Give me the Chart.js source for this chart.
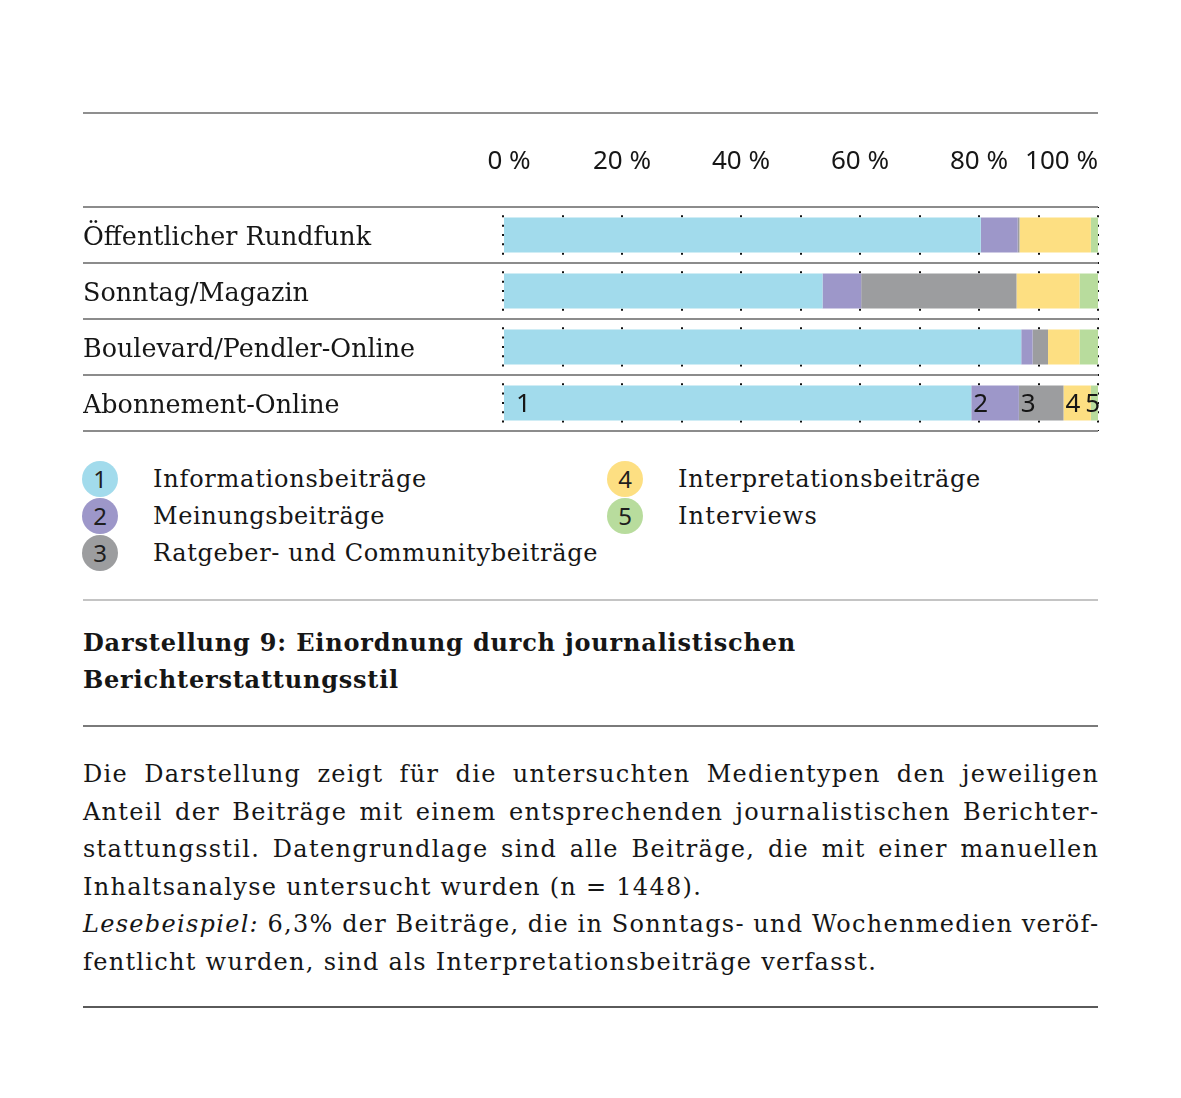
<!DOCTYPE html>
<html><head><meta charset="utf-8">
<script src="https://cdn.jsdelivr.net/npm/chart.js@4/dist/chart.umd.min.js"></script>
<style>
html,body{margin:0;padding:0;background:#fff;}
body{width:1181px;height:1098px;position:relative;overflow:hidden;font-family:"DejaVu Serif",serif;color:#161616;}
.hl{position:absolute;left:83px;width:1015px;}
#chartBox{position:absolute;left:83px;top:113px;width:1020px;height:330px;}
.dot{position:absolute;width:36px;height:36px;border-radius:50%;font-family:"Noto Sans",sans-serif;font-size:24px;line-height:36px;text-align:center;color:#1e1e1e;}
.lbl{position:absolute;white-space:nowrap;font-size:24px;line-height:36px;}
.fit{display:inline-block;white-space:nowrap;}
.title{position:absolute;left:83px;font-weight:bold;font-size:24px;line-height:37px;white-space:nowrap;}
.bl{position:absolute;left:83px;width:1015px;font-size:24px;line-height:37.6px;white-space:nowrap;}
</style>
</head>
<body>
<div class="hl" style="top:112px;height:2px;background:#8f8f8f"></div>
<div id="chartBox"><canvas id="c" width="1020" height="330"></canvas></div>
<div id="legend"></div>
<div class="hl" style="top:599px;height:2px;background:#c4c4c4"></div>
<div class="title" style="top:624px"><span class="fit" data-w="713">Darstellung 9: Einordnung durch journalistischen</span></div>
<div class="title" style="top:661px"><span class="fit" data-w="316">Berichterstattungsstil</span></div>
<div class="hl" style="top:725px;height:2px;background:#7a7a7a"></div>
<div id="body">
<div class="bl" style="top:756px"><span class="fit jl">Die Darstellung zeigt für die untersuchten Medientypen den jeweiligen</span></div>
<div class="bl" style="top:794px"><span class="fit jl">Anteil der Beiträge mit einem entsprechenden journalistischen Berichter-</span></div>
<div class="bl" style="top:831px"><span class="fit jl">stattungsstil. Datengrundlage sind alle Beiträge, die mit einer manuellen</span></div>
<div class="bl" style="top:869px"><span class="fit" id="ref1">Inhaltsanalyse untersucht wurden (n = 1448).</span></div>
<div class="bl" style="top:906px"><span class="fit jl"><i>Lesebeispiel:</i> 6,3% der Beiträge, die in Sonntags- und Wochenmedien veröf-</span></div>
<div class="bl" style="top:944px"><span class="fit" id="ref2">fentlicht wurden, sind als Interpretationsbeiträge verfasst.</span></div>
</div>
<div class="hl" style="top:1006px;height:2px;background:#5a5a5a"></div>
<script>
// ---- data ----
const categories = ['Öffentlicher Rundfunk', 'Sonntag/Magazin', 'Boulevard/Pendler-Online', 'Abonnement-Online'];
const seriesNames = ['Informationsbeiträge', 'Meinungsbeiträge', 'Ratgeber- und Communitybeiträge', 'Interpretationsbeiträge', 'Interviews'];
const seriesNumbers = ['1', '2', '3', '4', '5'];
const informationsbeitraege = [80.3, 53.7, 87.1, 78.7];
const meinungsbeitraege = [6.2, 6.5, 1.9, 8.0];
const ratgeberCommunity = [0.3, 26.1, 2.6, 7.5];
const interpretationsbeitraege = [12.0, 10.6, 5.3, 4.6];
const interviews = [1.2, 3.1, 3.1, 1.2];
const tickValues = [0, 20, 40, 60, 80, 100];
const tickLabels = ['0 %', '20 %', '40 %', '60 %', '80 %', '100 %'];
const seriesColors = ['#A2DBEC', '#9D97C9', '#9C9D9F', '#FDDF82', '#B8DC9D'];

const seriesValues = [informationsbeitraege, meinungsbeitraege, ratgeberCommunity, interpretationsbeitraege, interviews];

// ---- legend (HTML) ----
const legendPos = [[82, 461], [82, 498], [82, 535], [607, 461], [607, 498]];
const legendWidths = [274, 232, 445, 303, 140];
const legend = document.getElementById('legend');
seriesNames.forEach((name, i) => {
  const d = document.createElement('div');
  d.className = 'dot';
  d.style.left = legendPos[i][0] + 'px';
  d.style.top = legendPos[i][1] + 'px';
  d.style.background = seriesColors[i];
  d.textContent = seriesNumbers[i];
  legend.appendChild(d);
  const l = document.createElement('div');
  l.className = 'lbl';
  l.style.left = (legendPos[i][0] + 71) + 'px';
  l.style.top = legendPos[i][1] + 'px';
  l.innerHTML = '<span class="fit"></span>';
  l.firstChild.textContent = name;
  l.firstChild.dataset.w = legendWidths[i];
  legend.appendChild(l);
});

// ---- fit text widths ----
function fit(el, target) {
  el.style.letterSpacing = '0px';
  const w = el.getBoundingClientRect().width;
  const n = el.textContent.length;
  const ls = (target - w) / n;
  el.style.letterSpacing = ls + 'px';
  return ls;
}
document.querySelectorAll('.fit[data-w]').forEach(el => fit(el, +el.dataset.w));
const ls1 = fit(document.getElementById('ref1'), 620);
const ls2 = fit(document.getElementById('ref2'), 793);
const lsBody = (ls1 + ls2) / 2;
document.querySelectorAll('#body .fit').forEach(el => { el.style.letterSpacing = lsBody + 'px'; });
document.querySelectorAll('#body .jl').forEach(el => {
  el.style.wordSpacing = '0px';
  const w = el.getBoundingClientRect().width - lsBody;
  const spaces = (el.textContent.match(/ /g) || []).length;
  el.style.wordSpacing = ((1015 - w) / spaces) + 'px';
});

// ---- row label font size ----
const mctx = document.createElement('canvas').getContext('2d');
mctx.font = '100px "DejaVu Serif"';
const rowFont = Math.round(100 * 288 / mctx.measureText(categories[0]).width * 10) / 10;

// ---- plugins ----
const topLabels = {
  id: 'topLabels',
  afterDraw(chart) {
    const sx = chart.scales.x, ctx = chart.ctx;
    ctx.save();
    ctx.font = '26px "Noto Sans"';
    ctx.fillStyle = '#161616';
    ctx.textBaseline = 'alphabetic';
    tickValues.forEach((v, i) => {
      const x = sx.getPixelForValue(v);
      ctx.textAlign = i === tickValues.length - 1 ? 'right' : 'center';
      ctx.fillText(tickLabels[i], x + (i === 0 ? 6 : 0), chart.chartArea.top - 38);
    });
    ctx.restore();
  }
};
const segNumbers = {
  id: 'segNumbers',
  afterDatasetsDraw(chart) {
    const ctx = chart.ctx, idx = categories.length - 1;
    ctx.save();
    ctx.font = '26px "Noto Sans"';
    ctx.fillStyle = '#161616';
    ctx.textBaseline = 'alphabetic';
    ctx.textAlign = 'left';
    chart.data.datasets.forEach((ds, i) => {
      const el = chart.getDatasetMeta(i).data[idx];
      const left = Math.min(el.base, el.x);
      const w = ctx.measureText(seriesNumbers[i]).width;
      let x = i === 0 ? left + 12 : left + 2;
      x = Math.min(x, chart.chartArea.right + 2 - w);
      ctx.fillText(seriesNumbers[i], x, el.y + 9);
    });
    ctx.restore();
  }
};

new Chart(document.getElementById('c'), {
  type: 'bar',
  data: {
    labels: categories,
    datasets: seriesValues.map((d, i) => ({
      label: seriesNames[i], data: d, backgroundColor: seriesColors[i],
      borderWidth: 0, barPercentage: 1, categoryPercentage: 0.625
    }))
  },
  options: {
    indexAxis: 'y', responsive: false, animation: false, maintainAspectRatio: false,
    layout: { padding: { left: 0, right: 5, top: 0, bottom: 12 } },
    plugins: { legend: { display: false }, tooltip: { enabled: false } },
    scales: {
      x: {
        position: 'top', stacked: true, min: 0, max: 100, z: 1,
        ticks: { stepSize: 10, display: false },
        grid: { color: '#111', lineWidth: 2, drawTicks: false },
        border: { display: false, dash: [2, 7.33], dashOffset: 1 },
        afterFit(s) { s.height = 94; s.paddingLeft = 0; s.paddingRight = 0; }
      },
      y: {
        stacked: true,
        grid: { offset: true, color: '#8c8c8c', lineWidth: 2, tickLength: 420, drawTicks: true },
        border: { display: false },
        ticks: { crossAlign: 'far', labelOffset: 3, color: '#161616', font: { family: 'DejaVu Serif', size: rowFont } },
        afterFit(s) { s.width = 420; s.paddingTop = 0; s.paddingBottom = 0; }
      }
    }
  },
  plugins: [topLabels, segNumbers]
});
</script>
</body></html>
